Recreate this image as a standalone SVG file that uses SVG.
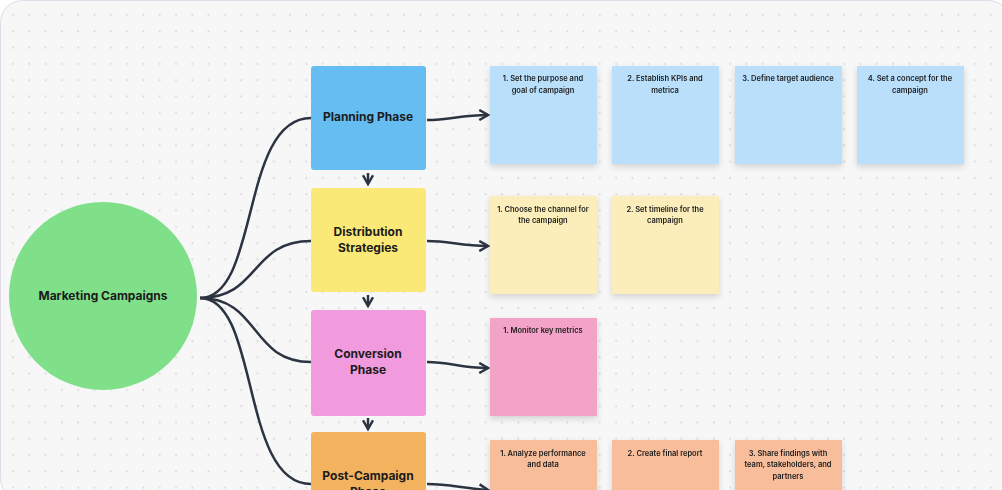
<svg xmlns="http://www.w3.org/2000/svg" width="1002" height="490" viewBox="0 0 1002 490">
<defs>
<pattern id="dots" x="5" y="7" width="16.3" height="16.3" patternUnits="userSpaceOnUse"><circle cx="8" cy="8" r="1" fill="#d6d6da"/></pattern>
<marker id="ah" viewBox="0 0 10 10" refX="8" refY="5" markerWidth="5" markerHeight="5" orient="auto"><path d="M1,1 L8,5 L1,9" fill="none" stroke="#2b3440" stroke-width="2"/></marker>
<filter id="sh" x="-20%" y="-20%" width="140%" height="150%"><feDropShadow dx="0" dy="3" stdDeviation="3" flood-color="#000" flood-opacity="0.15"/></filter>
<style>
.t{font-family:Inter,"Liberation Sans",sans-serif;font-weight:700;fill:#1b1b1b;text-anchor:middle}
.ph{font-size:12px}.nt{font-size:7.5px;font-weight:600}
.c{fill:none;stroke:#2b3440;stroke-width:2.5}
</style>
</defs>
<rect width="1002" height="490" fill="#ffffff"/>
<rect x="0.5" y="0.5" width="1010" height="500" rx="22" fill="#f7f7f8" stroke="#e2dbe8"/>
<rect x="0" y="0" width="1002" height="490" fill="url(#dots)"/>
<g id="connectors">
<path class="c" d="M200,298 C260,298 240,118 311,118"/>
<path class="c" d="M200,298 C260,298 250,241 311,241"/>
<path class="c" d="M200,298 C260,298 250,362 311,362"/>
<path class="c" d="M200,298 C260,298 240,484 311,484"/>
<path class="c" d="M427,120 C450,120 460,115 488,115" marker-end="url(#ah)"/>
<path class="c" d="M427,241 C450,241 460,246 488,246" marker-end="url(#ah)"/>
<path class="c" d="M427,362 C450,362 460,368 488,368" marker-end="url(#ah)"/>
<path class="c" d="M427,484 C450,484 460,488 488,490" marker-end="url(#ah)"/>
<path class="c" d="M368,173 V184" marker-end="url(#ah)" stroke-width="2"/>
<path class="c" d="M368,295 V306" marker-end="url(#ah)" stroke-width="2"/>
<path class="c" d="M368,418 V429" marker-end="url(#ah)" stroke-width="2"/>
</g>
<g id="center"><circle cx="103" cy="296" r="94" fill="#80e08a"/><text class="t ph" x="103" y="300">Marketing Campaigns</text></g>
<g id="planning"><rect x="311" y="66" width="115" height="104" rx="3" fill="#66bdf2"/><text class="t ph" x="368" y="121">Planning Phase</text></g>
<g id="distribution"><rect x="311" y="188" width="115" height="104" rx="3" fill="#fbe977"/><text class="t ph" x="368" y="236">Distribution</text><text class="t ph" x="368" y="252">Strategies</text></g>
<g id="conversion"><rect x="311" y="310" width="115" height="106" rx="3" fill="#f19ade"/><text class="t ph" x="368" y="358">Conversion</text><text class="t ph" x="368" y="374">Phase</text></g>
<g id="postcampaign"><rect x="311" y="432" width="115" height="80" rx="3" fill="#f3b35e"/><text class="t ph" x="368" y="480">Post-Campaign</text><text class="t ph" x="368" y="496">Phase</text></g>
<g filter="url(#sh)">
<g id="n1"><rect x="490" y="66" width="107" height="98" fill="#b9dffb"/><text class="t nt" x="543" y="81">1. Set the purpose and</text><text class="t nt" x="543" y="93">goal of campaign</text></g>
<g id="n2"><rect x="612" y="66" width="107" height="98" fill="#b9dffb"/><text class="t nt" x="665" y="81">2.  Establish KPIs and</text><text class="t nt" x="665" y="93">metrica</text></g>
<g id="n3"><rect x="735" y="66" width="107" height="98" fill="#b9dffb"/><text class="t nt" x="788" y="81">3. Define target audience</text></g>
<g id="n4"><rect x="857" y="66" width="107" height="98" fill="#b9dffb"/><text class="t nt" x="910" y="81">4. Set a concept for the</text><text class="t nt" x="910" y="93">campaign</text></g>
<g id="n5"><rect x="490" y="196" width="107" height="98" fill="#fbeebb"/><text class="t nt" x="543" y="212">1. Choose the channel for</text><text class="t nt" x="543" y="223">the campaign</text></g>
<g id="n6"><rect x="612" y="196" width="107" height="98" fill="#fbeebb"/><text class="t nt" x="665" y="212">2. Set timeline for the</text><text class="t nt" x="665" y="223">campaign</text></g>
<g id="n7"><rect x="490" y="318" width="107" height="98" fill="#f3a3c8"/><text class="t nt" x="543" y="333">1. Monitor key metrics</text></g>
<g id="n8"><rect x="490" y="440" width="107" height="60" fill="#f8be9b"/><text class="t nt" x="543" y="456">1. Analyze performance</text><text class="t nt" x="543" y="467">and data</text></g>
<g id="n9"><rect x="612" y="440" width="107" height="60" fill="#f8be9b"/><text class="t nt" x="665" y="456">2. Create final report</text></g>
<g id="n10"><rect x="735" y="440" width="107" height="60" fill="#f8be9b"/><text class="t nt" x="788" y="456">3. Share findings with</text><text class="t nt" x="788" y="467">team, stakeholders, and</text><text class="t nt" x="788" y="479">partners</text></g>
</g>
</svg>
